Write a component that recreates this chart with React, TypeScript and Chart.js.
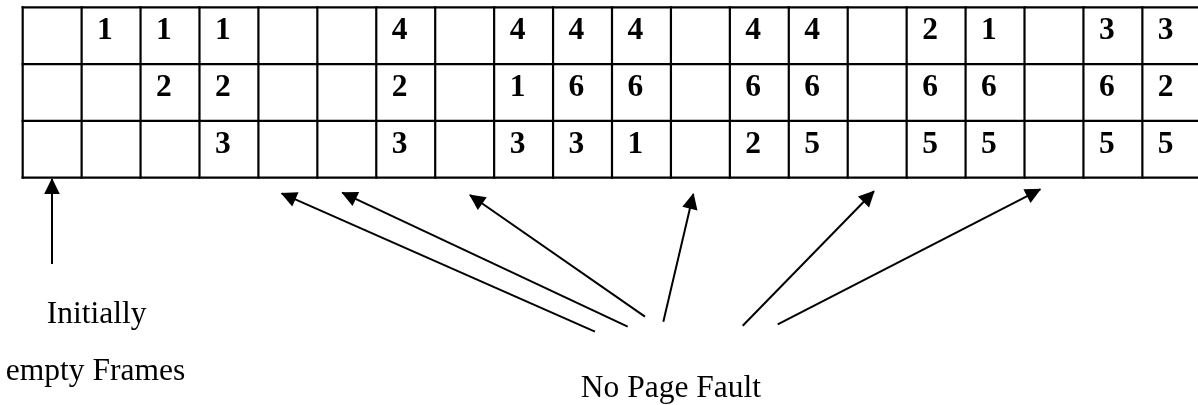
import React, { useEffect, useRef } from "react";
import { Chart, registerables } from "chart.js";

Chart.register(...registerables);

// Frame contents per reference step (20 steps, 3 frames)
const frameRow1: (number | null)[] = [null, 1, 1, 1, null, null, 4, null, 4, 4, 4, null, 4, 4, null, 2, 1, null, 3, 3];
const frameRow2: (number | null)[] = [null, null, 2, 2, null, null, 2, null, 1, 6, 6, null, 6, 6, null, 6, 6, null, 6, 2];
const frameRow3: (number | null)[] = [null, null, null, 3, null, null, 3, null, 3, 3, 1, null, 2, 5, null, 5, 5, null, 5, 5];

// Table grid boundaries (column / row units)
const columnBoundaries = [0, 1, 2, 3, 4, 5, 6, 7, 8, 9, 10, 11, 12, 13, 14, 15, 16, 17, 18, 19, 20];
const rowBoundaries = [0, 1, 2, 3];

// Arrows (column / row units)
const arrowTailX = [0.497, 9.711, 10.266, 10.56, 10.871, 12.218, 12.812];
const arrowTailY = [4.52, 5.711, 5.623, 5.447, 5.535, 5.606, 5.581];
const arrowTipX = [0.497, 4.395, 5.423, 7.59, 11.38, 14.446, 17.268];
const arrowTipY = [3.023, 3.275, 3.264, 3.305, 3.287, 3.239, 3.204];

// Captions
const captionTexts = ["Initially", "empty Frames", "No Page Fault"];
const captionX = [1.256, 1.235, 11.001];
const captionY = [5.563, 6.562, 6.856];

const frameRows = [frameRow1, frameRow2, frameRow3];

export default function App() {
  const canvasRef = useRef<HTMLCanvasElement | null>(null);

  useEffect(() => {
    document.body.style.margin = "0";
    const canvas = canvasRef.current;
    if (!canvas) return;

    const lastCol = columnBoundaries[columnBoundaries.length - 1];
    const lastRow = rowBoundaries[rowBoundaries.length - 1];

    const gridDatasets: any[] = [];
    rowBoundaries.forEach((r) => {
      gridDatasets.push({
        type: "line",
        data: [
          { x: columnBoundaries[0], y: r },
          { x: lastCol, y: r },
        ],
        borderColor: "#000",
        borderWidth: 2.2,
        borderCapStyle: "square",
        pointRadius: 0,
        fill: false,
        clip: false,
      });
    });
    columnBoundaries.forEach((c) => {
      gridDatasets.push({
        type: "line",
        data: [
          { x: c, y: rowBoundaries[0] },
          { x: c, y: lastRow },
        ],
        borderColor: "#000",
        borderWidth: 2.2,
        borderCapStyle: "square",
        pointRadius: 0,
        fill: false,
        clip: false,
      });
    });

    const arrowDatasets: any[] = arrowTailX.map((tx, i) => ({
      type: "line",
      isArrow: true,
      data: [
        { x: tx, y: arrowTailY[i] },
        { x: arrowTipX[i], y: arrowTipY[i] },
      ],
      borderColor: "#000",
      borderWidth: 2,
      pointRadius: 0,
      fill: false,
      clip: false,
    }));

    const cellPoints: any[] = [];
    frameRows.forEach((row, r) => {
      row.forEach((v, c) => {
        if (v !== null) cellPoints.push({ x: c, y: r, v });
      });
    });
    const cellDataset = {
      type: "scatter",
      isCells: true,
      data: cellPoints,
      pointRadius: 0,
      clip: false,
    };

    const drawPlugin = {
      id: "diagramText",
      afterDatasetsDraw(chart: any) {
        const ctx = chart.ctx;
        const xs = chart.scales.x;
        const ys = chart.scales.y;
        ctx.save();
        ctx.fillStyle = "#000";
        // arrow heads
        chart.data.datasets.forEach((ds: any, di: number) => {
          if (!ds.isArrow) return;
          const pts = chart.getDatasetMeta(di).data;
          const s = pts[0];
          const t = pts[1];
          const a = Math.atan2(t.y - s.y, t.x - s.x);
          const len = 15;
          const half = 7.8;
          const bx = t.x - len * Math.cos(a);
          const by = t.y - len * Math.sin(a);
          ctx.beginPath();
          ctx.moveTo(t.x + Math.cos(a), t.y + Math.sin(a));
          ctx.lineTo(bx - half * Math.sin(a), by + half * Math.cos(a));
          ctx.lineTo(bx + half * Math.sin(a), by - half * Math.cos(a));
          ctx.closePath();
          ctx.fill();
        });
        // cell digits
        ctx.font = "bold 31.5px 'Liberation Serif', 'Times New Roman', serif";
        ctx.textAlign = "left";
        ctx.textBaseline = "alphabetic";
        chart.data.datasets.forEach((ds: any, di: number) => {
          if (!ds.isCells) return;
          const pts = chart.getDatasetMeta(di).data;
          pts.forEach((p: any, i: number) => {
            ctx.fillText(String(ds.data[i].v), p.x + 15.5, p.y + 31.8);
          });
        });
        // captions
        ctx.font = "31.5px 'Liberation Serif', 'Times New Roman', serif";
        ctx.textAlign = "center";
        captionTexts.forEach((txt, i) => {
          ctx.fillText(txt, xs.getPixelForValue(captionX[i]), ys.getPixelForValue(captionY[i]));
        });
        ctx.restore();
      },
    };

    const chart = new Chart(canvas, {
      type: "line",
      data: { datasets: [...gridDatasets, ...arrowDatasets, cellDataset] as any },
      options: {
        responsive: false,
        devicePixelRatio: 1,
        animation: false,
        events: [],
        layout: { padding: 0 },
        plugins: { legend: { display: false }, tooltip: { enabled: false } },
        scales: {
          x: { type: "linear", min: -0.385, max: 19.944, display: false },
          y: { type: "linear", min: -0.1285, max: 7.002, reverse: true, display: false },
        },
      } as any,
      plugins: [drawPlugin],
    });

    return () => chart.destroy();
  }, []);

  return (
    <div style={{ width: 1198, height: 405, background: "#fff" }}>
      <canvas ref={canvasRef} width={1198} height={405} style={{ display: "block" }} />
    </div>
  );
}
